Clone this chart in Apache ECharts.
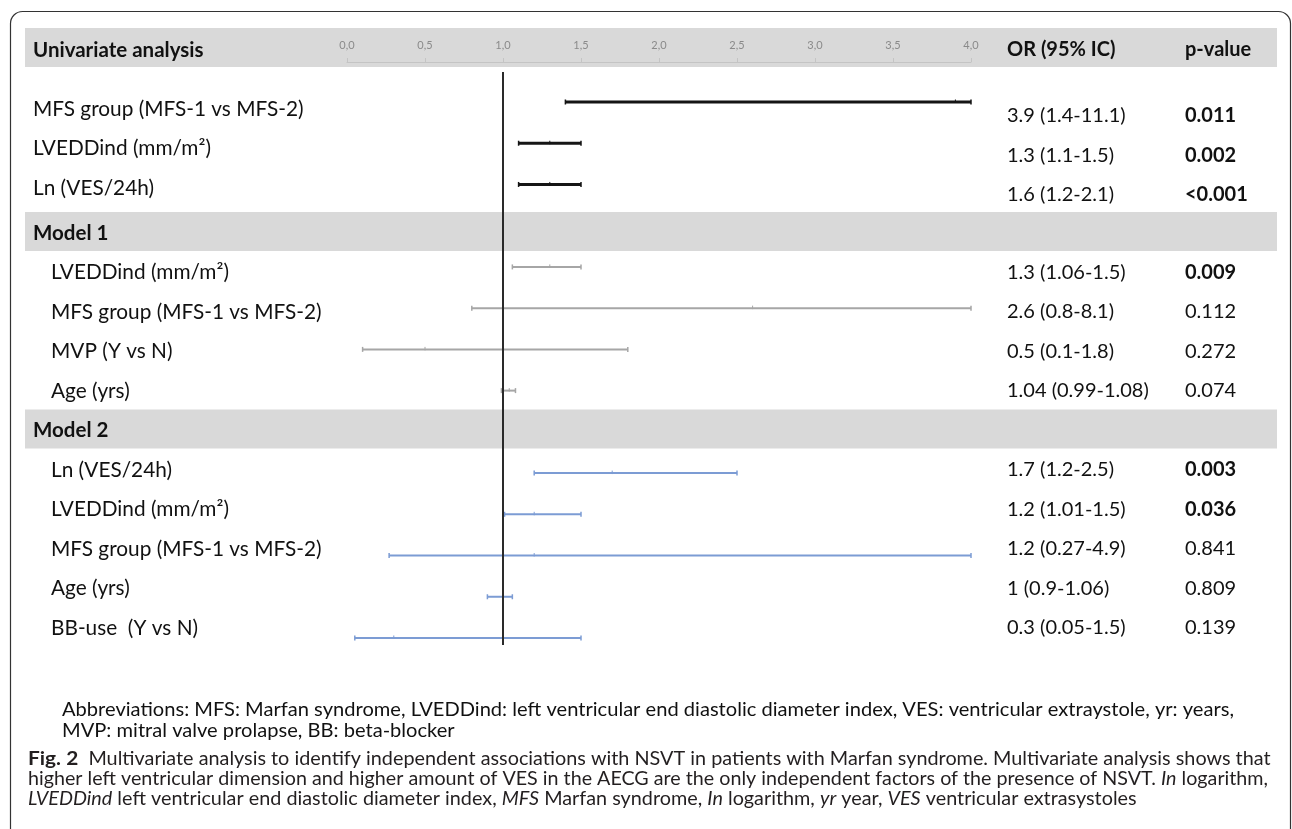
<!DOCTYPE html>
<html>
<head>
<meta charset="utf-8">
<script src="https://cdn.jsdelivr.net/npm/echarts@6/dist/echarts.min.js"></script>
<style>
html,body{margin:0;padding:0;background:#fff;}
#chart{width:1292px;height:829px;}
</style>
</head>
<body>
<div id="chart"></div>
<script>
// ---------------- DATA ----------------
const groupTitles = ['Univariate analysis', 'Model 1', 'Model 2'];
const rowLabels = [
  'MFS group (MFS-1 vs MFS-2)', 'LVEDDind (mm/m²)', 'Ln (VES/24h)',
  'LVEDDind (mm/m²)', 'MFS group (MFS-1 vs MFS-2)', 'MVP (Y vs N)', 'Age (yrs)',
  'Ln (VES/24h)', 'LVEDDind (mm/m²)', 'MFS group (MFS-1 vs MFS-2)', 'Age (yrs)', 'BB-use  (Y vs N)'
];
const rowGroup = [0, 0, 0, 1, 1, 1, 1, 2, 2, 2, 2, 2];
// values as plotted in the figure
const plotOR   = [3.9, 1.3, 1.3, 1.3, 2.6, 0.5, 1.04, 1.7, 1.2, 1.2, 1, 0.3];
const plotLow  = [1.4, 1.1, 1.1, 1.06, 0.8, 0.1, 0.99, 1.2, 1.01, 0.27, 0.9, 0.05];
const plotHigh = [11.1, 1.5, 1.5, 1.5, 8.1, 1.8, 1.08, 2.5, 1.5, 4.9, 1.06, 1.5];
// values as printed in the table column
const orTexts = [
  '3.9 (1.4-11.1)', '1.3 (1.1-1.5)', '1.6 (1.2-2.1)',
  '1.3 (1.06-1.5)', '2.6 (0.8-8.1)', '0.5 (0.1-1.8)', '1.04 (0.99-1.08)',
  '1.7 (1.2-2.5)', '1.2 (1.01-1.5)', '1.2 (0.27-4.9)', '1 (0.9-1.06)', '0.3 (0.05-1.5)'
];
const pValues = ['0.011', '0.002', '<0.001', '0.009', '0.112', '0.272', '0.074', '0.003', '0.036', '0.841', '0.809', '0.139'];
const pSignificant = [true, true, true, true, false, false, false, true, true, false, false, false];
const axisMin = 0, axisMax = 4, axisStep = 0.5;
const nullValue = 1;
const headerTexts = ['OR (95% IC)', 'p-value'];
const abbrevLines = [
  'Abbreviations: MFS: Marfan syndrome, LVEDDind: left ventricular end diastolic diameter index, VES: ventricular extraystole, yr: years,',
  'MVP: mitral valve prolapse, BB: beta-blocker'
];
const captionLines = [
  [['b', 'Fig. 2'], ['n', '  Multivariate analysis to identify independent associations with NSVT in patients with Marfan syndrome. Multivariate analysis shows that']],
  [['n', 'higher left ventricular dimension and higher amount of VES in the AECG are the only independent factors of the presence of NSVT. '], ['i', 'In'], ['n', ' logarithm,']],
  [['i', 'LVEDDind'], ['n', ' left ventricular end diastolic diameter index, '], ['i', 'MFS'], ['n', ' Marfan syndrome, '], ['i', 'In'], ['n', ' logarithm, '], ['i', 'yr'], ['n', ' year, '], ['i', 'VES'], ['n', ' ventricular extrasystoles']]
];

// ---------------- LAYOUT ----------------
const FONT = 'Lato, "Noto Sans", sans-serif';
const plotLeft = 347, plotRight = 971, axisY = 62, firstSlotY = 102, slotPx = 41.23, plotBottom = 660;
const refTopY = 72, refBottomY = 645;
const groupColors = ['#151515', '#a6a6a6', '#7c9cd4'];
const groupWidths = [3, 2, 2];
const bandColor = '#d9d9d9';

// slot index of each row in the plot/table (group headers occupy slots 3 and 8)
const rowSlot = rowGroup.map((g, i) => i + g);
const headerSlots = [3, 8];

function tableY(k) { return k < 3 ? 109 + 39.5 * k : 233 + 39.5 * (k - 3); }
function rightY(k) { return k < 3 ? tableY(k) + 7 : tableY(k); }

const measureCtx = document.createElement('canvas').getContext('2d');
function segWidth(segs, size, fam) {
  let w = 0;
  segs.forEach(([t, s]) => {
    const weight = t === 'b' ? 'bold ' : '';
    const style = t === 'i' ? 'italic ' : '';
    measureCtx.font = style + weight + size + 'px ' + fam;
    w += measureCtx.measureText(s).width;
  });
  return w;
}

const graphics = [];
// border (rounded top corners, bottom edge beyond the canvas)
graphics.push({
  type: 'rect', z: -20, silent: true,
  shape: { x: 10.5, y: 11.5, width: 1280, height: 860, r: [12, 12, 0, 0] },
  style: { fill: 'none', stroke: '#333', lineWidth: 1.2 }
});
// header band
graphics.push({ type: 'rect', z: -10, silent: true, shape: { x: 25, y: 28, width: 1252, height: 39 }, style: { fill: bandColor } });
// model bands
headerSlots.forEach(k => {
  graphics.push({ type: 'rect', z: -10, silent: true, shape: { x: 25, y: tableY(k) - 21, width: 1252, height: 39 }, style: { fill: bandColor } });
});
function txt(x, y, text, bold, size) {
  return {
    type: 'text', x: x, y: y, z: 5, silent: true,
    style: { text: text, fontFamily: FONT, fontSize: size || 20, fontWeight: bold ? 'bold' : 'normal', fill: '#111', align: 'left', verticalAlign: 'middle' }
  };
}
// header texts
graphics.push(txt(33, 50, groupTitles[0], true, 20.5));
graphics.push(txt(1007, 50, headerTexts[0], true));
graphics.push(txt(1185, 50, headerTexts[1], true));
headerSlots.forEach((k, j) => graphics.push(txt(33, tableY(k), groupTitles[j + 1], true, 20.5)));
// rows
rowLabels.forEach((lab, i) => {
  const k = rowSlot[i];
  graphics.push(txt(rowGroup[i] === 0 ? 33 : 51, tableY(k), lab, false, 20.8));
  graphics.push(txt(1007, rightY(k), orTexts[i], false));
  graphics.push(txt(1185, rightY(k), pValues[i], pSignificant[i]));
});
// abbreviations
const abbrSize = 19, abbrTarget = 1172;
const abbrScale = abbrTarget / segWidth([['n', abbrevLines[0]]], abbrSize, 'Lato');
abbrevLines.forEach((l, j) => {
  graphics.push({
    type: 'text', x: 62, y: 710 + 21 * j, scaleX: abbrScale, silent: true,
    style: { text: l, fontFamily: FONT, fontSize: abbrSize, fill: '#111', align: 'left', verticalAlign: 'middle' }
  });
});
// caption
const capSize = 18.5, capX = 28, capTarget = 1240;
const capScale = capTarget / segWidth(captionLines[0], capSize, 'Lato');
const rich = {
  n: { fontFamily: FONT, fontSize: capSize, fill: '#231f20' },
  b: { fontFamily: FONT, fontSize: capSize + 1, fontWeight: 'bold', fill: '#231f20' },
  i: { fontFamily: FONT, fontSize: capSize, fontStyle: 'italic', fill: '#231f20' }
};
captionLines.forEach((segs, j) => {
  const sc = j === 1 ? capTarget / segWidth(segs, capSize, 'Lato') : capScale;
  graphics.push({
    type: 'text', x: capX, y: 759 + 20 * j, scaleX: sc, silent: true,
    style: {
      text: segs.map(([t, s]) => '{' + t + '|' + s + '}').join(''),
      rich: rich, fontFamily: FONT, fontSize: capSize, fill: '#231f20', align: 'left', verticalAlign: 'middle'
    }
  });
});

// ---------------- CHART ----------------
const chart = echarts.init(document.getElementById('chart'), null, { renderer: 'canvas' });
const yMin = -(firstSlotY - axisY) / slotPx;
const yMax = (plotBottom - firstSlotY) / slotPx;

chart.setOption({
  animation: false,
  backgroundColor: '#fff',
  grid: { left: plotLeft, width: plotRight - plotLeft, top: axisY, height: plotBottom - axisY },
  xAxis: {
    type: 'value', position: 'top', min: axisMin, max: axisMax, interval: axisStep,
    axisLine: { show: true, onZero: false, lineStyle: { color: '#c4c4c4', width: 1 } },
    axisTick: { show: true, length: 4, lineStyle: { color: '#c4c4c4' } },
    axisLabel: { color: '#8a8a8a', fontSize: 11, fontFamily: FONT, margin: 11, formatter: v => v.toFixed(1).replace('.', ',') },
    splitLine: { show: false }
  },
  yAxis: { type: 'value', inverse: true, min: yMin, max: yMax, show: false },
  graphic: graphics,
  series: [
    {
      type: 'custom', z: 2, silent: true,
      data: plotOR.map((v, i) => [rowSlot[i], plotLow[i], v, plotHigh[i], rowGroup[i]]),
      encode: { x: [1, 2, 3], y: 0 },
      renderItem: function (params, api) {
        const slot = api.value(0);
        const lo = Math.max(api.value(1), axisMin);
        const hi = Math.min(api.value(3), axisMax);
        const g = api.value(4);
        const p1 = api.coord([lo, slot]);
        const p2 = api.coord([hi, slot]);
        const pm = api.coord([api.value(2), slot]);
        const c = groupColors[g], w = groupWidths[g];
        const cap = 2.5;
        return {
          type: 'group',
          children: [
            { type: 'line', shape: { x1: p1[0], y1: p1[1], x2: p2[0], y2: p2[1] }, style: { stroke: c, lineWidth: w } },
            { type: 'line', shape: { x1: p1[0], y1: p1[1] - cap, x2: p1[0], y2: p1[1] + cap }, style: { stroke: c, lineWidth: 1.5 } },
            { type: 'line', shape: { x1: p2[0], y1: p2[1] - cap, x2: p2[0], y2: p2[1] + cap }, style: { stroke: c, lineWidth: 1.5 } },
            { type: 'line', shape: { x1: pm[0], y1: pm[1] - cap, x2: pm[0], y2: pm[1] + 1 }, style: { stroke: c, lineWidth: 1 } }
          ]
        };
      }
    },
    {
      type: 'line', z: 4, silent: true, symbol: 'none',
      data: [[nullValue, (refTopY - firstSlotY) / slotPx], [nullValue, (refBottomY - firstSlotY) / slotPx]],
      lineStyle: { color: '#2a2a2a', width: 2 }
    }
  ]
});
</script>
</body>
</html>
